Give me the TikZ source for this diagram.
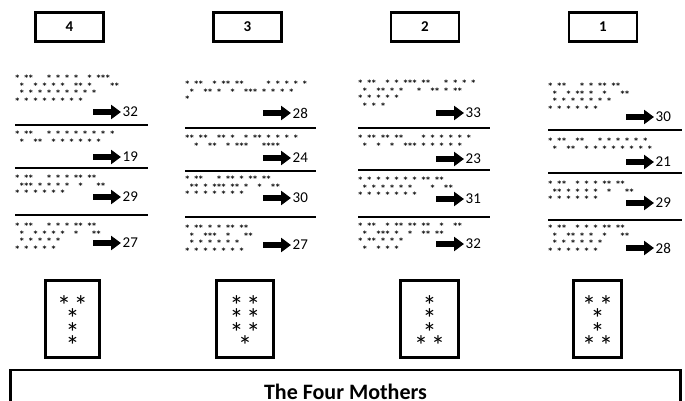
\documentclass[tikz,border=0pt]{standalone}
\usepackage{fontspec}
\setmainfont{Carlito}
\newfontfamily\dotfont{DejaVu Sans Mono}
\newcommand\starfont{\fontsize{28}{13.5}\selectfont\lineskiplimit=-50pt\relax}
\newcommand\high{\rule{0pt}{33pt}}
\usetikzlibrary{arrows.meta}

\begin{document}
\begin{tikzpicture}[x=1pt, y=-1pt,
  numbox/.style={draw, line width=2.8pt, minimum width=68pt, minimum height=29pt, font=\bfseries\fontsize{15}{15}\selectfont},
  starbox/.style={draw, line width=2.8pt, minimum height=77pt, align=center, inner sep=0pt, font=\starfont},
  dots/.style={anchor=north west, inner sep=0pt, align=left, font=\dotfont\bfseries\fontsize{7.5}{7.5}\selectfont},
  score/.style={anchor=west, inner sep=1.5pt, font=\fontsize{15}{15}\selectfont},
  rule/.style={line width=1.6pt},
  fat/.style={line width=6pt, -{Triangle[length=10pt,width=14pt]}}
]
\useasboundingbox (0,0) rectangle (685,401);

\node[numbox] (n4) at (69.5,27) {4};
\node[numbox] (n3) at (247.5,27) {3};
\node[numbox] (n2) at (425,27) {2};
\node[numbox] (n1) at (603,27) {1};

% column 4
\node[dots] (t4a) at (15,75) {*~**~~~*~*~*~*~~*~***\\~*~~*~*~*~*~~**~*~~~~**\\~*~*~*~*~*~*~*~*~*\\*~*~*~*~*~*~*~*};
\node[dots] (t4b) at (15,131) {*~**~~~*~*~*~*~*~*~*~*\\~*~~**~~*~*~*~*~*~*};
\node[dots] (t4c) at (15,175) {*~**~~~*~*~*~**~**\\~***~*~*~*~*~~*~~~**\\*~*~*~*~*~*};
\node[dots] (t4d) at (15,223) {*~**~~~*~*~*~**~**\\~*~~*~*~*~*~~*~~~**\\~*~*~*~*~*\\*~*~*~*~*};
\foreach \y in {125,168,215} \draw[rule] (15,\y) -- (148,\y);
\foreach \y/\v [count=\i] in {112/32,157/19,197/29,243/27} {
  \coordinate (a4\i) at (93,\y);
  \node[score] (s4\i) at (121,\y) {\v};
  \draw[fat] (a4\i) -- (s4\i.west);
}

% column 3
\node[dots] (t3a) at (185,81) {*~**~~*~**~**~~~~~*~*~*~*~*\\~*~~**~*~~*~~***~*~*~*~*\\*};
\node[dots] (t3b) at (185,135) {**~**~~**~*~~*~**~*~*~*~*\\~~*~~**~~*~***~~~****};
\node[dots] (t3c) at (185,176) {*~**~~~*~**~*~**~**\\~**~*~***~**~*~~*~~**\\*~*~*~*~*~*~*};
\node[dots] (t3d) at (185,225) {*~**~*~*~**~**\\~*~~***~~*~~~**\\~*~*~*~*~*~*\\*~*~*~*~*~*~*};
\foreach \y in {128,171,217} \draw[rule] (185,\y) -- (316,\y);
\foreach \y/\v [count=\i] in {113/28,158/24,198/30,245/27} {
  \coordinate (a3\i) at (263,\y);
  \node[score] (s3\i) at (291,\y) {\v};
  \draw[fat] (a3\i) -- (s3\i.west);
}

% column 2
\node[dots] (t2a) at (358,80) {*~**~~*~*~***~**~~~*~*~*~*\\~*~~**~*~*~~~*~~**~*~**\\*~*~*~*~*\\~*~*~*};
\node[dots] (t2b) at (358,135) {*~**~**~**~~~~*~*~*~*~*~*\\~*~~*~~*~~***~*~*~*~*~*};
\node[dots] (t2c) at (358,177) {*~*~*~*~*~*~*~**~**\\~*~*~*~*~*~*~~~~*~~**\\*~*~*~*~*~*~*};
\node[dots] (t2d) at (358,223) {*~**~~*~**~**~**~~*~~**\\~*~~***~*~~*~~**~**\\*~**~*~*~*\\~*~~*~*~*};
\foreach \y in {128,170,217} \draw[rule] (358,\y) -- (490,\y);
\foreach \y/\v [count=\i] in {113/33,159/23,199/31,244/32} {
  \coordinate (a2\i) at (436,\y);
  \node[score] (s2\i) at (464,\y) {\v};
  \draw[fat] (a2\i) -- (s2\i.west);
}

% column 1
\node[dots] (t1a) at (548,83) {*~**~~~*~*~**~**\\~*~~*~**~*~~*~~~**\\~*~*~*~*~*~*~*\\*~*~*~*~*~*};
\node[dots] (t1b) at (548,138) {*~**~~**~~~*~*~*~*~*~*\\~*~~**~~*~*~*~*~*~*~*~*};
\node[dots] (t1c) at (548,181) {*~**~~*~*~*~**~**\\~**~*~*~*~*~~*~~~**\\*~*~*~*~*~*};
\node[dots] (t1d) at (548,225) {*~**~~*~*~*~**~**\\~*~~**~*~*~~*~~~**\\~*~*~*~*~*~*\\*~*~*~*~*~*};
\foreach \y in {130,173,220} \draw[rule] (548,\y) -- (682,\y);
\foreach \y/\v [count=\i] in {117/30,162/21,203/29,248/28} {
  \coordinate (a1\i) at (626,\y);
  \node[score] (s1\i) at (654,\y) {\v};
  \draw[fat] (a1\i) -- (s1\i.west);
}

\node[starbox, minimum width=54pt] (m4) at (72.5,319) {\high*\hspace{3pt}*\\*\\*\\*};
\node[starbox, minimum width=57pt] (m3) at (245,319) {\high*\hspace{3pt}*\\*\hspace{3pt}*\\*\hspace{3pt}*\\*};
\node[starbox, minimum width=58pt] (m2) at (429.5,319) {\high*\\*\\*\\*\hspace{3pt}*};
\node[starbox, minimum width=48pt] (m1) at (597.5,319) {\high*\hspace{3pt}*\\*\\*\\*\hspace{3pt}*};

\node[draw, line width=2.8pt, minimum width=670pt, minimum height=44pt, anchor=north, font=\bfseries\fontsize{22}{22}\selectfont] (mothers) at (345.5,368.5) {The Four Mothers};
\end{tikzpicture}
\end{document}
